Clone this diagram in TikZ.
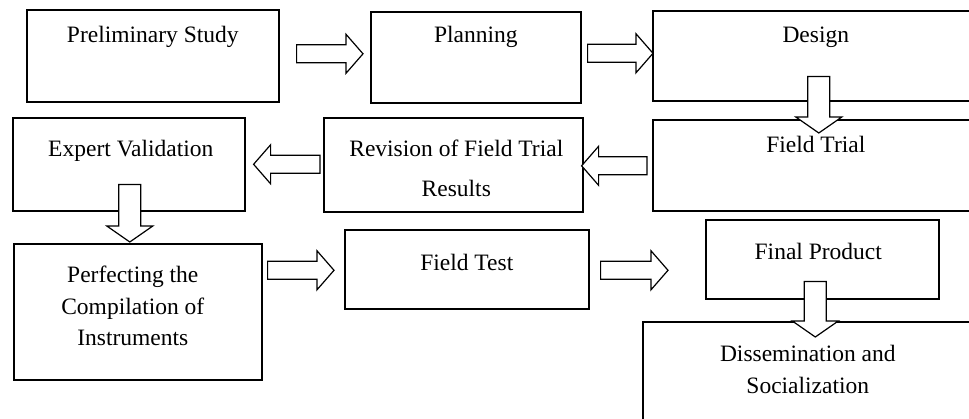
\documentclass[tikz,border=0pt]{standalone}
\usepackage{fontspec}
\setmainfont{Liberation Serif}
\usetikzlibrary{calc, positioning}

\begin{document}
\begin{tikzpicture}[x=1pt, y=-1pt,
	box/.style = {draw, line width=1.6pt, fill=white, anchor=north west, inner sep=0pt},
	txt/.style = {anchor=base, align=center, inner sep=0pt, font=\fontsize{23.5}{31.5}\selectfont},
	barrow/.style n args = {3}{draw, fill=white, line width=1.2pt, line join=miter, to path={
		let \p1=(\tikztostart), \p2=(\tikztotarget), \p3=($(\p2)!#3!(\p1)$) in
		($(\p1)!#1!90:(\p2)$) -- ($(\p3)!#1!90:(\p2)$) -- ($(\p3)!#2!90:(\p2)$) -- (\p2)
		-- ($(\p3)!#2!-90:(\p2)$) -- ($(\p3)!#1!-90:(\p2)$) -- ($(\p1)!#1!-90:(\p2)$) -- cycle}},
	harrow/.style = {barrow={9pt}{19.5pt}{17pt}},
	varrow/.style = {barrow={11pt}{23pt}{16pt}}]
	\useasboundingbox (0,0) rectangle (969,419);
	\clip (0,0) rectangle (969,419);
	% boxes
	\node[box, minimum width=252pt, minimum height=92pt] (ps) at (26,9) {};
	\node[box, minimum width=210pt, minimum height=91pt] (pl) at (370,11) {};
	\node[box, minimum width=326pt, minimum height=90pt] (de) at (652,10) {};
	\node[box, minimum width=326pt, minimum height=91pt] (ft) at (652,119) {};
	\node[box, minimum width=259pt, minimum height=94pt] (rv) at (323,117) {};
	\node[box, minimum width=232pt, minimum height=93pt] (ev) at (12,117) {};
	\node[box, minimum width=248pt, minimum height=136pt] (pc) at (13,243) {};
	\node[box, minimum width=244pt, minimum height=79pt] (fx) at (344,229) {};
	\node[box, minimum width=233pt, minimum height=79pt] (fp) at (705,219) {};
	\node[box, minimum width=330pt, minimum height=130pt] (ds) at (642,321) {};
	% texts (base = last line)
	\node[txt] (ps-t) at ($(ps.north)+(0,34)$) {Preliminary Study};
	\node[txt] (pl-t) at ($(pl.north)+(0,32)$) {Planning};
	\node[txt] (de-t) at ($(de.north)+(0,33)$) {Design};
	\node[txt] (ft-t) at ($(ft.north)+(0,34)$) {Field Trial};
	\node[txt] (rv-t) at ($(rv.north)+(3,80)$) {Revision of Field Trial\\[8.5pt]Results};
	\node[txt] (ev-t) at ($(ev.north)+(2,40)$) {Expert Validation};
	\node[txt] (pc-t) at ($(pc.north)+(-5,103)$) {Perfecting the\\Compilation of\\Instruments};
	\node[txt] (fx-t) at ($(fx.north)+(0,42)$) {Field Test};
	\node[txt] (fp-t) at ($(fp.north)+(-4,41)$) {Final Product};
	\node[txt] (ds-t) at ($(ds.north)+(0,72)$) {Dissemination and\\Socialization};
	% arrows
	\draw[harrow] ($(ps.east)+(17,-2)$) to ($(ps.east -| pl.west)+(-7,-2)$);
	\draw[harrow] ($(pl.east)+(6,-4)$) to ($(pl.east -| de.west)+(1,-4)$);
	\draw[harrow] ($(ft.west)+(-5,0.5)$) to ($(ft.west -| rv.east)+(-2,0.5)$);
	\draw[harrow] ($(rv.west)+(-3,-0.5)$) to ($(rv.west -| ev.east)+(8,-0.5)$);
	\draw[harrow] ($(fx.west -| pc.east)+(5,1)$) to ($(fx.west)+(-10,1)$);
	\draw[harrow] ($(fx.east)+(11,1)$) to ($(fx.east -| fp.west)+(-37,1)$);
	\draw[varrow] ($(de.south)+(3,-25)$) to ($(de.south |- ft.north)+(3,14)$);
	\draw[varrow] ($(ev.south)+(1,-27)$) to ($(ev.south |- pc.north)+(1,-1)$);
	\draw[varrow] ($(fp.south)+(-7,-18)$) to ($(fp.south |- ds.north)+(-7,16)$);
\end{tikzpicture}
\end{document}
